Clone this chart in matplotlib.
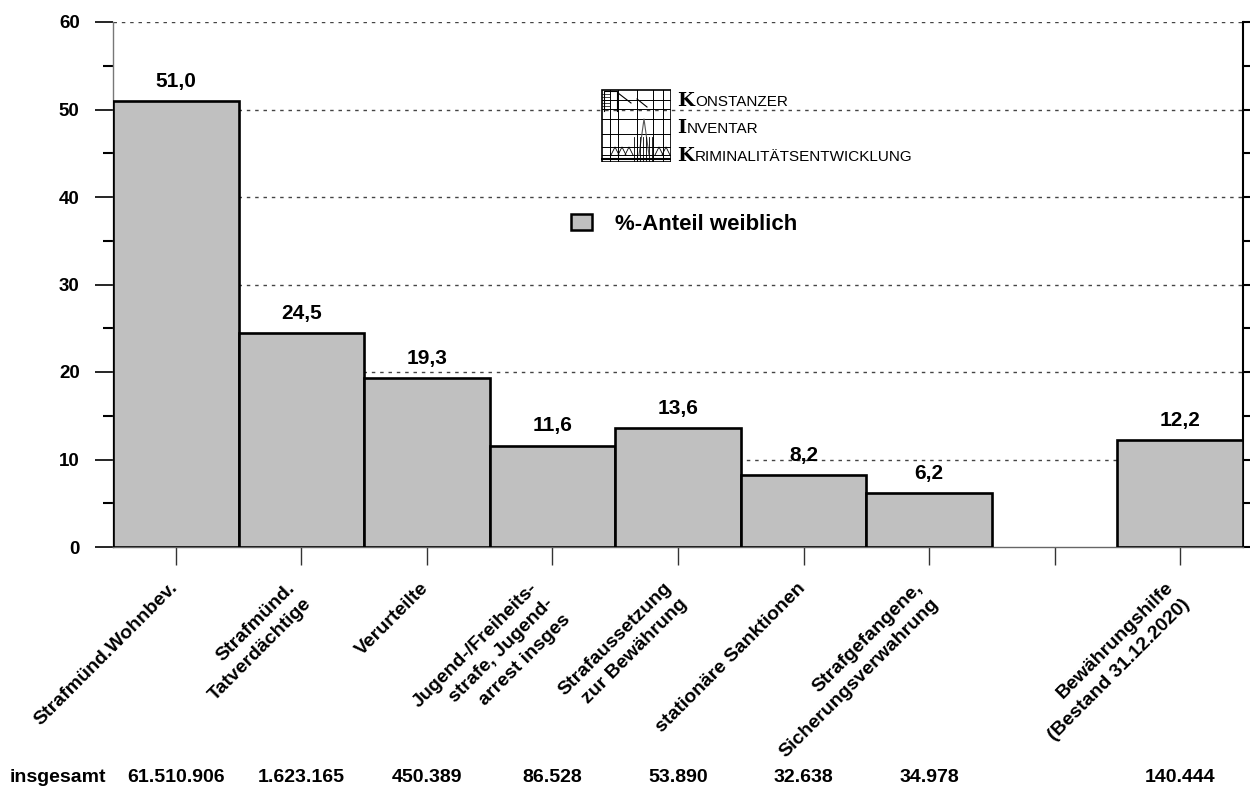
import matplotlib
matplotlib.use("Agg")
import matplotlib.pyplot as plt
import matplotlib.transforms as mtransforms
from matplotlib.patches import Patch, Rectangle
from matplotlib.ticker import MultipleLocator

plt.rcParams['font.family'] = ['Liberation Sans', 'DejaVu Sans']

# data
categories = ["Strafmünd.Wohnbev.", "Strafmünd.\nTatverdächtige", "Verurteilte",
              "Jugend-/Freiheits-\nstrafe, Jugend-\narrest insges",
              "Strafaussetzung\nzur Bewährung", "stationäre Sanktionen",
              "Strafgefangene,\nSicherungsverwahrung", "",
              "Bewährungshilfe\n(Bestand 31.12.2020)"]
positions = [0, 1, 2, 3, 4, 5, 6, 8]
anteil_weiblich = [51.0, 24.5, 19.3, 11.6, 13.6, 8.2, 6.2, 12.2]
value_labels = ["51,0", "24,5", "19,3", "11,6", "13,6", "8,2", "6,2", "12,2"]
insgesamt = ["61.510.906", "1.623.165", "450.389", "86.528", "53.890",
             "32.638", "34.978", "140.444"]

W, H = 1250, 790
fig = plt.figure(figsize=(12.5, 7.9), dpi=100)
ax = fig.add_axes([113 / W, 1 - 547 / H, (1243 - 113) / W, (547 - 22) / H])

# bars
ax.bar(positions, anteil_weiblich, width=1.0, color='#c0c0c0',
       edgecolor='black', linewidth=1.9, zorder=3)
for x, v, lab in zip(positions, anteil_weiblich, value_labels):
    ax.text(x, v + 1.15, lab, ha='center', va='bottom', fontsize=15,
            fontweight='bold', zorder=4)

ax.set_xlim(-0.5, 8.5)
ax.set_ylim(0, 60)

# grid
for y in range(10, 61, 10):
    ax.axhline(y, color='#444444', lw=1, ls=(0, (2.5, 3.5)), zorder=0)

# spines
ax.spines['top'].set_visible(False)
ax.spines['left'].set_color('#777777')
ax.spines['left'].set_linewidth(1)
ax.spines['bottom'].set_color('#666666')
ax.spines['bottom'].set_linewidth(1)
ax.spines['right'].set_color('black')
ax.spines['right'].set_linewidth(1.5)

# y axis
ax.yaxis.set_major_locator(MultipleLocator(10))
ax.yaxis.set_minor_locator(MultipleLocator(5))
ax.tick_params(axis='y', which='major', direction='out', length=13, width=1.2,
               color='black', labelsize=13.5, pad=11, right=True)
ax.tick_params(axis='y', which='minor', direction='out', length=7, width=1.5,
               color='black', right=True)
for lab in ax.get_yticklabels():
    lab.set_fontweight('bold')
# right ticks shorter
for t in ax.yaxis.get_major_ticks():
    t.tick2line.set_markersize(6)
    t.tick2line.set_markeredgewidth(1.5)
for t in ax.yaxis.get_minor_ticks():
    t.tick2line.set_markersize(6)

# x axis
ax.set_xticks(range(9))
ax.set_xticklabels(categories, rotation=45, ha='right', va='center',
                   rotation_mode='anchor', multialignment='right',
                   fontsize=14, fontweight='bold', linespacing=1.45)
ax.tick_params(axis='x', direction='out', length=13, width=1, color='#333333', pad=11)
for lab, name in zip(ax.get_xticklabels(), categories):
    n = name.count("\n")
    shift = mtransforms.ScaledTranslation(-1 / 100, -(5 + 8 * n) / 100,
                                          fig.dpi_scale_trans)
    lab.set_transform(lab.get_transform() + shift)

# totals row
trans = mtransforms.blended_transform_factory(ax.transData, fig.transFigure)
fig.text(10 / W, 1 - 778 / H, "insgesamt", ha='left', va='center',
         fontsize=14, fontweight='bold')
for x, s in zip(positions, insgesamt):
    ax.text(x, 1 - 778 / H, s, transform=trans, ha='center', va='center',
            fontsize=14, fontweight='bold', clip_on=False)

# legend
fig.legend(handles=[Patch(facecolor='#c0c0c0', edgecolor='black', linewidth=1.8)],
           labels=["%-Anteil weiblich"], loc='center left',
           bbox_to_anchor=(571 / W, 1 - 224 / H), frameon=False,
           prop={'size': 16, 'weight': 'bold'}, handlelength=0.95,
           handleheight=0.7, handletextpad=1.05, borderpad=0, borderaxespad=0)

# logo
lax = fig.add_axes([601 / W, 1 - 162 / H, 70 / W, 73 / H])
lax.set_xlim(0, 70)
lax.set_ylim(73, 0)
lax.axis('off')
lax.add_patch(Rectangle((0.5, 0.5), 69, 72, fill=False, lw=1.2, ec='black'))
for xv in [9, 17, 36, 52, 62]:
    lax.plot([xv, xv], [0.5, 72.5], color='black', lw=0.7)
for yv in [11, 20, 30, 45, 58, 66]:
    lax.plot([0.5, 69.5], [yv, yv], color='black', lw=0.7)
lax.plot([3, 3, 16, 16], [22, 2, 2, 22], color='black', lw=0.8)
for yv in [5, 8, 11, 14, 17]:
    lax.plot([1, 9], [yv, yv], color='black', lw=0.5)
lax.plot([17, 30], [4, 14], color='black', lw=0.8)
lax.plot([36, 46], [10, 18], color='black', lw=0.8)
lax.plot([38, 43, 48], [66, 30, 66], color='#555555', lw=0.8)
for xv in range(33, 52, 3):
    lax.plot([xv, xv], [48, 72], color='black', lw=0.6)
for xs in [10, 17, 24, 54, 61]:
    lax.plot([xs, xs + 4, xs + 8], [66, 58, 66], color='black', lw=0.6)
lax.plot([0.5, 69.5], [70, 70], color='black', lw=1.5)

logo_lines = [("K", "ONSTANZER", 100), ("I", "NVENTAR", 127),
              ("K", "RIMINALITÄTSENTWICKLUNG", 155)]
fig.canvas.draw()
renderer = fig.canvas.get_renderer()
for first, rest, ypx in logo_lines:
    t = fig.text(677 / W, 1 - (ypx + 6) / H, first, ha='left', va='baseline',
                 fontsize=14, fontweight='bold', family='DejaVu Serif')
    x1 = t.get_window_extent(renderer).x1
    fig.text((x1 + 1) / W, 1 - (ypx + 6) / H, rest, ha='left', va='baseline',
             fontsize=11, family='Liberation Sans')

fig.savefig("out.png", dpi=100)
